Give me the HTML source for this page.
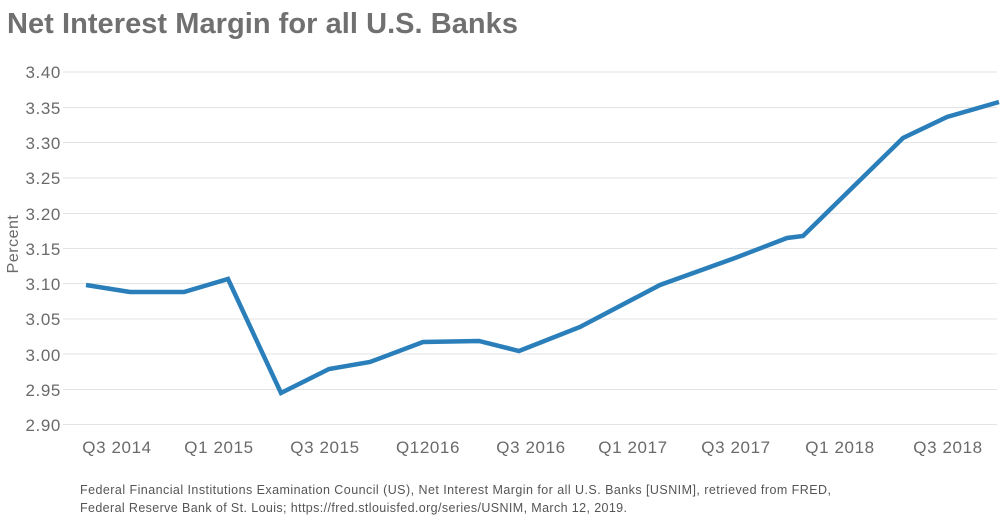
<!DOCTYPE html>
<html><head><meta charset="utf-8"><style>
body{margin:0;background:#fff;width:1000px;height:525px;overflow:hidden;font-family:"Liberation Sans",sans-serif}
</style></head><body>
<svg width="1000" height="525" xmlns="http://www.w3.org/2000/svg" font-family="Liberation Sans, sans-serif">
<text x="7" y="33" font-size="29" fill="#707070" font-weight="bold" textLength="511" lengthAdjust="spacing">Net Interest Margin for all U.S. Banks</text>
<g stroke="#e3e3e3" stroke-width="1">
<line x1="63" x2="997" y1="72" y2="72"/><line x1="63" x2="997" y1="107.5" y2="107.5"/>
<line x1="63" x2="997" y1="142.5" y2="142.5"/><line x1="63" x2="997" y1="178" y2="178"/>
<line x1="63" x2="997" y1="213.5" y2="213.5"/><line x1="63" x2="997" y1="248.5" y2="248.5"/>
<line x1="63" x2="997" y1="283.5" y2="283.5"/><line x1="63" x2="997" y1="319" y2="319"/>
<line x1="63" x2="997" y1="354" y2="354"/><line x1="63" x2="997" y1="389.5" y2="389.5"/>
<line x1="63" x2="997" y1="424.5" y2="424.5"/>
</g>
<g font-size="17" fill="#6a6a6a" text-anchor="end" letter-spacing="0.6">
<text x="61" y="78">3.40</text><text x="61" y="114">3.35</text><text x="61" y="149">3.30</text>
<text x="61" y="184">3.25</text><text x="61" y="220">3.20</text><text x="61" y="255">3.15</text>
<text x="61" y="290">3.10</text><text x="61" y="325">3.05</text><text x="61" y="361">3.00</text>
<text x="61" y="396">2.95</text><text x="61" y="431">2.90</text>
</g>
<text transform="translate(18,244) rotate(-90)" font-size="16" fill="#6a6a6a" text-anchor="middle" letter-spacing="0.5">Percent</text>
<g font-size="17" fill="#6a6a6a" text-anchor="middle" letter-spacing="0.6">
<text x="117" y="453">Q3 2014</text><text x="219" y="453">Q1 2015</text><text x="325" y="453">Q3 2015</text>
<text x="428" y="453">Q12016</text><text x="531" y="453">Q3 2016</text><text x="633" y="453">Q1 2017</text>
<text x="736" y="453">Q3 2017</text><text x="840" y="453">Q1 2018</text><text x="948" y="453">Q3 2018</text>
</g>
<polyline fill="none" stroke="#2a7fba" stroke-width="4.5" stroke-linejoin="miter" points="86,285 130,292 184,292 228,279 281,393 329,369 370,362 423,342 479,341 519,351 580,327 660,285 735,258 787,238 803,236 903,138 947,117 999,102"/>
<g font-size="12.5" fill="#555">
<text x="80" y="494" textLength="751" lengthAdjust="spacing">Federal Financial Institutions Examination Council (US), Net Interest Margin for all U.S. Banks [USNIM], retrieved from FRED,</text>
<text x="80" y="512" textLength="547" lengthAdjust="spacing">Federal Reserve Bank of St. Louis; https://fred.stlouisfed.org/series/USNIM, March 12, 2019.</text>
</g>
</svg>
</body></html>
